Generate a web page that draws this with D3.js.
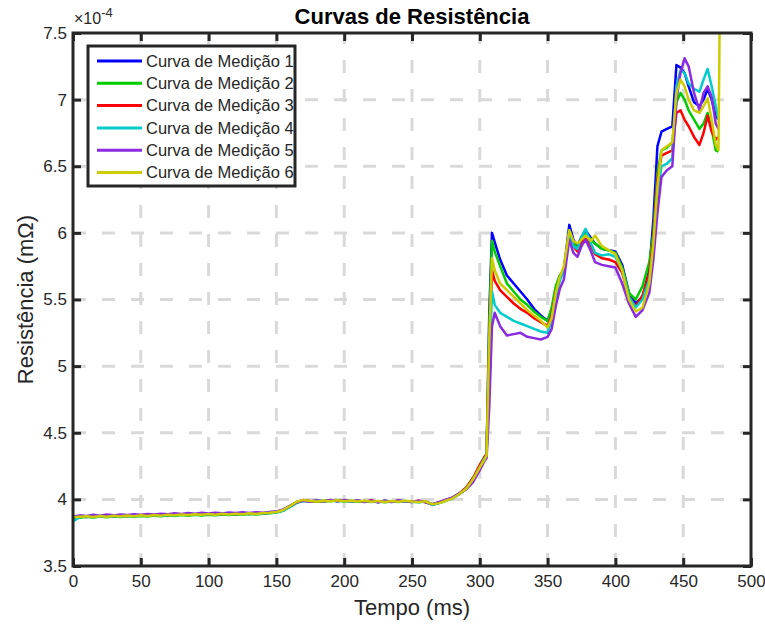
<!DOCTYPE html>
<html>
<head>
<meta charset="utf-8">
<script src="https://cdn.jsdelivr.net/npm/d3@7"></script>
<style>
  body { margin: 0; background: #fff; }
  text { font-family: Arial, "Liberation Sans", Helvetica, sans-serif; fill: #262626; }
</style>
</head>
<body>
<div id="chart"></div>
<script>
// time axis (ms)
const tempoInicio = [0, 5, 10, 15, 20, 25, 30, 35, 40, 45, 50, 55, 60, 65, 70, 75, 80, 85, 90, 95,
  100, 105, 110, 115, 120, 125, 130, 135, 140, 145, 150, 155, 160, 165, 170, 175, 180, 185, 190, 195,
  200, 205, 210, 215, 220, 225, 230, 235, 240, 245, 250, 255, 260, 265, 270, 275, 280, 285, 290, 295, 300];
const tempoFinal = [303, 305, 307, 309, 311, 315, 320, 325, 330, 335,
  340, 345, 350, 353, 356, 359, 362, 366, 369, 372,
  375, 378, 382, 385, 390, 395, 400, 405, 410, 415,
  420, 425, 428, 431, 434, 438, 442, 445, 448, 451,
  454, 458, 462, 465, 468, 471, 474, 476, 477];

// resistance values, x1e-4
const medicao1 = [3.86, 3.872, 3.868, 3.876, 3.87, 3.877, 3.872, 3.879, 3.875, 3.881,
  3.877, 3.883, 3.879, 3.885, 3.881, 3.888, 3.884, 3.889, 3.885, 3.891,
  3.887, 3.892, 3.888, 3.894, 3.889, 3.895, 3.891, 3.897, 3.894, 3.899,
  3.904, 3.918, 3.948, 3.978, 3.993, 3.984, 3.989, 3.984, 3.994, 3.987,
  3.992, 3.984, 3.989, 3.981, 3.989, 3.979, 3.987, 3.981, 3.989, 3.984,
  3.981, 3.987, 3.979, 3.96, 3.975, 3.993, 4.01, 4.04, 4.08, 4.15, 4.24,
  4.30, 4.33, 5.40, 6.00, 5.93, 5.80, 5.68, 5.62, 5.56, 5.50,
  5.43, 5.38, 5.34, 5.42, 5.58, 5.68, 5.72, 6.06, 5.95, 5.90,
  5.97, 6.02, 5.96, 5.92, 5.88, 5.87, 5.86, 5.76, 5.55, 5.47,
  5.52, 5.72, 6.10, 6.65, 6.76, 6.78, 6.80, 7.26, 7.24, 7.20,
  7.10, 6.98, 6.95, 7.00, 7.08, 7.00, 6.88, 6.85, null];
const medicao2 = [3.865, 3.862, 3.87, 3.864, 3.872, 3.866, 3.873, 3.868, 3.875, 3.87,
  3.876, 3.871, 3.878, 3.873, 3.88, 3.876, 3.882, 3.877, 3.884, 3.879,
  3.885, 3.88, 3.886, 3.882, 3.888, 3.884, 3.89, 3.886, 3.892, 3.896,
  3.902, 3.915, 3.944, 3.975, 3.99, 3.986, 3.982, 3.99, 3.985, 3.991,
  3.984, 3.99, 3.982, 3.988, 3.98, 3.986, 3.978, 3.986, 3.98, 3.988,
  3.983, 3.978, 3.985, 3.965, 3.972, 3.99, 4.012, 4.045, 4.085, 4.16, 4.25,
  4.31, 4.34, 5.30, 5.94, 5.86, 5.75, 5.62, 5.56, 5.50, 5.46,
  5.41, 5.37, 5.34, 5.44, 5.60, 5.68, 5.72, 6.02, 5.93, 5.88,
  5.95, 5.99, 5.95, 5.92, 5.88, 5.87, 5.85, 5.74, 5.55, 5.50,
  5.60, 5.78, 6.00, 6.45, 6.62, 6.64, 6.68, 6.98, 7.05, 7.00,
  6.92, 6.85, 6.78, 6.82, 6.90, 6.78, 6.62, 6.61, null];
const medicao3 = [3.868, 3.874, 3.87, 3.877, 3.871, 3.878, 3.873, 3.88, 3.876, 3.882,
  3.878, 3.884, 3.88, 3.886, 3.882, 3.889, 3.885, 3.89, 3.886, 3.892,
  3.888, 3.893, 3.889, 3.895, 3.89, 3.896, 3.892, 3.898, 3.895, 3.9,
  3.906, 3.92, 3.95, 3.98, 3.995, 3.986, 3.99, 3.986, 3.996, 3.988,
  3.994, 3.986, 3.99, 3.983, 3.992, 3.98, 3.99, 3.983, 3.99, 3.985,
  3.982, 3.989, 3.98, 3.962, 3.976, 3.996, 4.012, 4.045, 4.09, 4.16, 4.26,
  4.31, 4.34, 5.15, 5.72, 5.64, 5.57, 5.52, 5.47, 5.43, 5.40,
  5.36, 5.33, 5.30, 5.38, 5.55, 5.66, 5.72, 6.00, 5.90, 5.86,
  5.93, 5.96, 5.90, 5.84, 5.81, 5.80, 5.78, 5.70, 5.52, 5.45,
  5.53, 5.70, 5.95, 6.40, 6.58, 6.60, 6.62, 6.90, 6.92, 6.85,
  6.80, 6.72, 6.66, 6.75, 6.88, 6.76, 6.70, 6.72, null];
const medicao4 = [3.835, 3.868, 3.872, 3.866, 3.874, 3.869, 3.876, 3.871, 3.878, 3.873,
  3.88, 3.875, 3.882, 3.877, 3.884, 3.879, 3.886, 3.882, 3.888, 3.884,
  3.89, 3.886, 3.892, 3.887, 3.893, 3.889, 3.895, 3.891, 3.896, 3.898,
  3.903, 3.916, 3.946, 3.976, 3.99, 3.985, 3.992, 3.986, 3.992, 3.985,
  3.99, 3.982, 3.99, 3.984, 3.986, 3.98, 3.99, 3.984, 3.986, 3.982,
  3.985, 3.98, 3.984, 3.958, 3.974, 3.992, 4.008, 4.04, 4.08, 4.15, 4.24,
  4.30, 4.33, 5.00, 5.56, 5.46, 5.40, 5.37, 5.34, 5.32, 5.30,
  5.28, 5.26, 5.25, 5.35, 5.52, 5.64, 5.72, 5.98, 5.90, 5.88,
  5.97, 6.03, 5.92, 5.85, 5.83, 5.84, 5.82, 5.72, 5.52, 5.44,
  5.50, 5.65, 5.90, 6.30, 6.50, 6.52, 6.56, 7.10, 7.22, 7.20,
  7.12, 7.08, 7.06, 7.15, 7.23, 7.10, 6.95, 6.85, null];
const medicao5 = [3.872, 3.88, 3.876, 3.884, 3.878, 3.886, 3.88, 3.887, 3.882, 3.889,
  3.884, 3.891, 3.886, 3.893, 3.888, 3.896, 3.891, 3.897, 3.892, 3.899,
  3.894, 3.9, 3.895, 3.902, 3.897, 3.903, 3.898, 3.904, 3.9, 3.905,
  3.91, 3.925, 3.952, 3.978, 3.99, 3.982, 3.992, 3.985, 3.996, 3.986,
  3.995, 3.985, 3.992, 3.982, 3.99, 3.98, 3.99, 3.982, 3.992, 3.984,
  3.985, 3.99, 3.982, 3.964, 3.98, 3.998, 4.015, 4.045, 4.075, 4.13, 4.22,
  4.28, 4.31, 4.70, 5.30, 5.40, 5.30, 5.23, 5.24, 5.25, 5.22,
  5.21, 5.20, 5.22, 5.28, 5.45, 5.58, 5.65, 5.95, 5.85, 5.82,
  5.90, 5.95, 5.86, 5.78, 5.76, 5.75, 5.74, 5.62, 5.47, 5.37,
  5.42, 5.55, 5.80, 6.15, 6.42, 6.47, 6.50, 7.00, 7.20, 7.31,
  7.25, 7.05, 6.92, 7.05, 7.10, 7.02, 6.82, 6.78, null];
const medicao6 = [3.866, 3.87, 3.873, 3.868, 3.876, 3.87, 3.877, 3.872, 3.879, 3.874,
  3.88, 3.876, 3.882, 3.878, 3.884, 3.88, 3.886, 3.882, 3.889, 3.884,
  3.89, 3.885, 3.892, 3.887, 3.893, 3.889, 3.895, 3.891, 3.897, 3.899,
  3.905, 3.92, 3.95, 3.982, 3.996, 3.988, 3.984, 3.99, 3.986, 3.993,
  3.986, 3.99, 3.984, 3.99, 3.982, 3.988, 3.98, 3.988, 3.983, 3.989,
  3.984, 3.98, 3.986, 3.963, 3.972, 3.99, 4.008, 4.04, 4.08, 4.15, 4.24,
  4.29, 4.33, 5.20, 5.81, 5.72, 5.62, 5.57, 5.52, 5.47, 5.42,
  5.38, 5.34, 5.29, 5.36, 5.55, 5.67, 5.75, 6.02, 5.94, 5.92,
  5.95, 5.98, 5.94, 5.98, 5.90, 5.87, 5.84, 5.72, 5.50, 5.41,
  5.44, 5.62, 5.92, 6.35, 6.62, 6.65, 6.68, 7.05, 7.15, 7.10,
  7.00, 6.92, 6.90, 6.95, 7.01, 6.85, 6.66, 6.62, 7.70];

const nomes = ["Curva de Medição 1", "Curva de Medição 2", "Curva de Medição 3",
  "Curva de Medição 4", "Curva de Medição 5", "Curva de Medição 6"];
const cores = ["#0000ff", "#00cc00", "#ff0000", "#00cccc", "#8a2be2", "#cccc00"];
const xTicks = [0, 50, 100, 150, 200, 250, 300, 350, 400, 450, 500];
const yTicks = [3.5, 4, 4.5, 5, 5.5, 6, 6.5, 7, 7.5];

const width = 765, height = 628;
const margin = {top: 33, right: 14, bottom: 62, left: 73};
const tempo = tempoInicio.concat(tempoFinal);
const series = [medicao1, medicao2, medicao3, medicao4, medicao5, medicao6];

const svg = d3.select("#chart").append("svg")
  .attr("width", width)
  .attr("height", height)
  .style("background", "white");

const x = d3.scaleLinear().domain([0, 500]).range([margin.left, width - margin.right]);
const y = d3.scaleLinear().domain([3.5, 7.5]).range([height - margin.bottom, margin.top]);
const x0 = x.range()[0], x1 = x.range()[1], y0 = y.range()[0], y1 = y.range()[1];

// grid
const grid = svg.append("g").attr("class", "grid")
  .attr("stroke", "#d9d9d9").attr("stroke-width", 3).attr("stroke-dasharray", "13,16");
grid.selectAll(".gx").data(xTicks.slice(1, -1)).enter().append("line")
  .attr("x1", d => x(d)).attr("x2", d => x(d))
  .attr("y1", y0).attr("y2", y1);
grid.selectAll(".gy").data(yTicks.slice(1, -1)).enter().append("line")
  .attr("x1", x0).attr("x2", x1)
  .attr("y1", d => y(d)).attr("y2", d => y(d));

svg.append("clipPath").attr("id", "clip")
  .append("rect").attr("x", x0).attr("y", y1).attr("width", x1 - x0).attr("height", y0 - y1);

const line = d3.line()
  .defined(d => d[1] != null)
  .x(d => x(d[0]))
  .y(d => y(d[1]));

svg.append("g").attr("clip-path", "url(#clip)")
  .selectAll("path").data(series).enter().append("path")
  .attr("d", s => line(s.map((v, i) => [tempo[i], v])))
  .attr("fill", "none")
  .attr("stroke", (d, i) => cores[i])
  .attr("stroke-width", 2.5)
  .attr("stroke-linejoin", "round");

// axes, ticks pointing inward on all four sides
function styleAxis(g) {
  g.select(".domain").remove();
  g.selectAll(".tick line").attr("stroke", "#262626").attr("stroke-width", 3);
  g.selectAll(".tick text").attr("fill", "#262626").style("font-size", "17px");
}
svg.append("g").attr("transform", `translate(0,${y0})`)
  .call(d3.axisBottom(x).tickValues(xTicks).tickSize(-8).tickPadding(9)).call(styleAxis);
svg.append("g").attr("transform", `translate(0,${y1})`)
  .call(d3.axisTop(x).tickValues(xTicks).tickSize(-8).tickFormat("")).call(styleAxis);
svg.append("g").attr("transform", `translate(${x0},0)`)
  .call(d3.axisLeft(y).tickValues(yTicks).tickSize(-8).tickPadding(6).tickFormat(d3.format("~g"))).call(styleAxis);
svg.append("g").attr("transform", `translate(${x1},0)`)
  .call(d3.axisRight(y).tickValues(yTicks).tickSize(-8).tickFormat("")).call(styleAxis);

svg.append("rect")
  .attr("x", x0).attr("y", y1).attr("width", x1 - x0).attr("height", y0 - y1)
  .attr("fill", "none").attr("stroke", "#262626").attr("stroke-width", 3);

// exponent label
const expo = svg.append("text").attr("x", x0 + 1).attr("y", 24).style("font-size", "16px");
expo.append("tspan").text("×10");
expo.append("tspan").attr("dy", -7).style("font-size", "13px").text("-4");

// titles
svg.append("text")
  .attr("x", (x0 + x1) / 2).attr("y", 24)
  .attr("text-anchor", "middle")
  .style("font-size", "22px").style("font-weight", "bold").style("fill", "#000")
  .text("Curvas de Resistência");
svg.append("text")
  .attr("x", (x0 + x1) / 2).attr("y", 615)
  .attr("text-anchor", "middle")
  .style("font-size", "22px")
  .text("Tempo (ms)");
svg.append("text")
  .attr("transform", `translate(33,${(y0 + y1) / 2}) rotate(-90)`)
  .attr("text-anchor", "middle")
  .style("font-size", "22px")
  .text("Resistência (mΩ)");

// legend
const leg = svg.append("g").attr("transform", "translate(88,46)");
leg.append("rect").attr("width", 207).attr("height", 140)
  .attr("fill", "white").attr("stroke", "#262626").attr("stroke-width", 3);
const item = leg.selectAll(".item").data(nomes).enter().append("g")
  .attr("transform", (d, i) => `translate(0,${15 + i * 22.3})`);
item.append("line").attr("x1", 9).attr("x2", 54)
  .attr("stroke", (d, i) => cores[i]).attr("stroke-width", 3);
item.append("text").attr("x", 58).attr("dy", "0.35em")
  .style("font-size", "16.5px").text(d => d);
</script>
</body>
</html>
